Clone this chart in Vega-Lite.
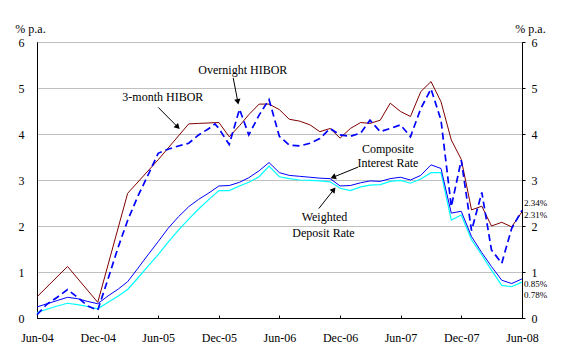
{
  "$schema": "https://vega.github.io/schema/vega-lite/v6.json",
  "width": 485,
  "height": 276,
  "autosize": "none",
  "padding": {"left": 37, "top": 42, "right": 43, "bottom": 36},
  "background": "white",
  "config": {
    "view": {"stroke": "black", "strokeWidth": 1},
    "font": "Liberation Serif, Times New Roman, DejaVu Serif, serif",
    "axis": {"labelFont": "Liberation Serif, Times New Roman, DejaVu Serif, serif", "labelFontSize": 12, "labelColor": "black", "titleFont": "Liberation Serif, Times New Roman, DejaVu Serif, serif", "titleFontSize": 12, "titleFontWeight": "normal", "titleColor": "black", "domainColor": "black", "tickColor": "black", "labelFlush": false, "labelBound": false, "labelOverlap": false}
  },
  "datasets": {
    "rates": [
      {"d":"2004-06-01","h3":0.46,"on":0.07,"ci":0.24,"wd":0.12},
      {"d":"2004-07-01","on":0.30,"ci":0.31,"wd":0.19},
      {"d":"2004-08-01","on":0.45,"ci":0.38,"wd":0.26},
      {"d":"2004-09-01","h3":1.12,"on":0.62,"ci":0.45,"wd":0.32},
      {"d":"2004-10-01","on":0.45,"ci":0.42,"wd":0.29},
      {"d":"2004-11-01","on":0.26,"ci":0.36,"wd":0.25},
      {"d":"2004-12-01","h3":0.34,"on":0.17,"ci":0.31,"wd":0.20},
      {"d":"2005-01-01","on":0.85,"ci":0.48,"wd":0.34},
      {"d":"2005-02-01","on":1.55,"ci":0.63,"wd":0.48},
      {"d":"2005-03-01","h3":2.71,"on":2.12,"ci":0.79,"wd":0.62},
      {"d":"2005-04-01","on":2.65,"ci":1.08,"wd":0.87},
      {"d":"2005-05-01","on":3.10,"ci":1.37,"wd":1.12},
      {"d":"2005-06-01","h3":3.44,"on":3.58,"ci":1.66,"wd":1.38},
      {"d":"2005-07-01","on":3.67,"ci":1.95,"wd":1.65},
      {"d":"2005-08-01","on":3.74,"ci":2.20,"wd":1.91},
      {"d":"2005-09-01","h3":4.22,"on":3.80,"ci":2.42,"wd":2.15},
      {"d":"2005-10-01","h3":4.23,"on":3.98,"ci":2.58,"wd":2.37},
      {"d":"2005-11-01","h3":4.24,"on":4.12,"ci":2.72,"wd":2.58},
      {"d":"2005-11-19","on":4.22},
      {"d":"2005-12-01","h3":4.25,"on":4.12,"ci":2.87,"wd":2.77},
      {"d":"2006-01-01","h3":3.94,"on":3.77,"ci":2.88,"wd":2.77},
      {"d":"2006-02-01","h3":4.18,"on":4.54,"ci":2.95,"wd":2.87},
      {"d":"2006-03-01","h3":4.42,"on":3.98,"ci":3.05,"wd":2.95},
      {"d":"2006-04-01","h3":4.65,"on":4.41,"ci":3.20,"wd":3.07},
      {"d":"2006-05-01","h3":4.65,"on":4.75,"ci":3.38,"wd":3.30},
      {"d":"2006-06-01","h3":4.53,"on":3.95,"ci":3.16,"wd":3.07},
      {"d":"2006-07-01","h3":4.32,"on":3.76,"ci":3.10,"wd":3.03},
      {"d":"2006-08-01","h3":4.28,"on":3.74,"ci":3.08,"wd":3.00},
      {"d":"2006-09-01","h3":4.20,"on":3.80,"ci":3.06,"wd":2.99},
      {"d":"2006-10-01","h3":4.05,"on":3.90,"ci":3.04,"wd":2.98},
      {"d":"2006-11-01","h3":4.12,"on":4.12,"ci":3.03,"wd":2.96},
      {"d":"2006-12-01","h3":3.91,"on":3.98,"ci":2.87,"wd":2.82},
      {"d":"2007-01-01","h3":4.12,"on":3.95,"ci":2.88,"wd":2.77},
      {"d":"2007-02-01","h3":4.25,"on":4.02,"ci":2.94,"wd":2.85},
      {"d":"2007-03-01","h3":4.23,"on":4.30,"ci":2.98,"wd":2.89},
      {"d":"2007-04-01","h3":4.30,"on":4.05,"ci":2.97,"wd":2.90},
      {"d":"2007-05-01","h3":4.67,"on":4.12,"ci":3.03,"wd":2.97},
      {"d":"2007-06-01","h3":4.49,"on":4.20,"ci":3.06,"wd":2.99},
      {"d":"2007-07-01","h3":4.38,"on":3.94,"ci":3.00,"wd":2.93},
      {"d":"2007-08-01","h3":4.92,"on":4.55,"ci":3.10,"wd":3.02},
      {"d":"2007-09-01","h3":5.14,"on":4.98,"ci":3.33,"wd":3.16},
      {"d":"2007-10-01","h3":4.70,"on":4.30,"ci":3.25,"wd":3.16},
      {"d":"2007-11-01","h3":3.87,"on":2.42,"ci":2.28,"wd":2.13},
      {"d":"2007-12-01","h3":3.45,"on":3.43,"ci":2.32,"wd":2.24},
      {"d":"2008-01-01","h3":2.35,"on":1.90,"ci":1.77,"wd":1.70},
      {"d":"2008-02-01","h3":2.43,"on":2.73,"ci":1.42,"wd":1.37},
      {"d":"2008-03-01","h3":2.00,"on":1.48,"ci":1.12,"wd":1.04},
      {"d":"2008-04-01","h3":2.08,"on":1.19,"ci":0.82,"wd":0.71},
      {"d":"2008-05-01","h3":1.98,"on":1.95,"ci":0.75,"wd":0.68},
      {"d":"2008-06-01","h3":2.31,"on":2.34,"ci":0.85,"wd":0.78}
    ],
    "ann": [
      {"t":"Overnight HIBOR","d":"2006-02-11","v":5.39},
      {"t":"3-month HIBOR","d":"2005-06-15","v":4.81},
      {"t":"Composite","d":"2007-04-24","v":3.68},
      {"t":"Interest Rate","d":"2007-04-24","v":3.36},
      {"t":"Weighted","d":"2006-10-15","v":2.19},
      {"t":"Deposit Rate","d":"2006-10-12","v":1.85}
    ],
    "ends": [
      {"t":"2.34%","d":"2008-06-01","v":2.51},
      {"t":"2.31%","d":"2008-06-01","v":2.25},
      {"t":"0.85%","d":"2008-06-01","v":0.75},
      {"t":"0.78%","d":"2008-06-01","v":0.49}
    ],
    "arrows": [
      {"id":1,"d":"2006-01-13","v":5.22,"d2":"2006-01-27","v2":4.70},
      {"id":2,"d":"2005-06-01","v":4.58,"d2":"2005-07-30","v2":4.15},
      {"id":3,"d":"2007-01-24","v":3.28,"d2":"2006-11-10","v2":3.06},
      {"id":4,"d":"2006-09-28","v":2.38,"d2":"2006-11-12","v2":2.79}
    ]
  },
  "layer": [
    {
      "data": {"name": "rates"},
      "transform": [{"filter": "isValid(datum.h3)"}],
      "mark": {"type": "line", "color": "#800000", "strokeWidth": 1},
      "encoding": {
        "x": {"field": "d", "type": "temporal", "title": null,
          "scale": {"type": "utc", "domain": [{"year":2004,"month":6,"date":1,"utc":true},{"year":2008,"month":6,"date":1,"utc":true}]},
          "axis": {"grid": false, "tickSize": -3, "labelPadding": 17, "labelExpr": "utcFormat(datum.value, '%b-%y')",
            "values": [{"year":2004,"month":6,"date":1,"utc":true},{"year":2004,"month":12,"date":1,"utc":true},{"year":2005,"month":6,"date":1,"utc":true},{"year":2005,"month":12,"date":1,"utc":true},{"year":2006,"month":6,"date":1,"utc":true},{"year":2006,"month":12,"date":1,"utc":true},{"year":2007,"month":6,"date":1,"utc":true},{"year":2007,"month":12,"date":1,"utc":true},{"year":2008,"month":6,"date":1,"utc":true}]}},
        "y": {"field": "h3", "type": "quantitative", "scale": {"domain": [0, 6]},
          "axis": {"orient": "left", "values": [0,1,2,3,4,5,6], "grid": true, "gridColor": "#c0c0c0", "ticks": false, "labelPadding": 13,
            "title": "% p.a.", "titleAngle": 0, "titleX": -7, "titleY": -14, "titleAlign": "center", "titleBaseline": "middle"}}
      }
    },
    {
      "data": {"name": "rates"},
      "transform": [{"filter": "isValid(datum.wd)"}],
      "mark": {"type": "line", "color": "#00ffff", "strokeWidth": 1.2},
      "encoding": {
        "x": {"field": "d", "type": "temporal", "title": null},
        "y": {"field": "wd", "type": "quantitative", "axis": null}
      }
    },
    {
      "data": {"name": "rates"},
      "transform": [{"filter": "isValid(datum.ci)"}],
      "mark": {"type": "line", "color": "#0000ff", "strokeWidth": 1},
      "encoding": {
        "x": {"field": "d", "type": "temporal", "title": null},
        "y": {"field": "ci", "type": "quantitative", "axis": null}
      }
    },
    {
      "data": {"name": "rates"},
      "transform": [{"filter": "isValid(datum.on)"}],
      "mark": {"type": "line", "color": "#0000ff", "strokeWidth": 1.7, "strokeDash": [7, 4]},
      "encoding": {
        "x": {"field": "d", "type": "temporal", "title": null},
        "y": {"field": "on", "type": "quantitative", "axis": null}
      }
    },
    {
      "data": {"name": "arrows"},
      "mark": {"type": "rule", "color": "black", "strokeWidth": 1},
      "encoding": {
        "x": {"field": "d", "type": "temporal", "title": null},
        "y": {"field": "v", "type": "quantitative", "axis": null},
        "x2": {"field": "d2"},
        "y2": {"field": "v2"}
      }
    },
    {
      "data": {"name": "arrows"},
      "transform": [{"filter": "datum.id == 1"}],
      "mark": {"type": "point", "shape": "triangle-up", "filled": true, "color": "black", "opacity": 1, "size": 40, "angle": 169.5},
      "encoding": {"x": {"field": "d2", "type": "temporal", "title": null}, "y": {"field": "v2", "type": "quantitative", "axis": null}}
    },
    {
      "data": {"name": "arrows"},
      "transform": [{"filter": "datum.id == 2"}],
      "mark": {"type": "point", "shape": "triangle-up", "filled": true, "color": "black", "opacity": 1, "size": 40, "angle": 135.4},
      "encoding": {"x": {"field": "d2", "type": "temporal", "title": null}, "y": {"field": "v2", "type": "quantitative", "axis": null}}
    },
    {
      "data": {"name": "arrows"},
      "transform": [{"filter": "datum.id == 3"}],
      "mark": {"type": "point", "shape": "triangle-up", "filled": true, "color": "black", "opacity": 1, "size": 40, "angle": 248.3},
      "encoding": {"x": {"field": "d2", "type": "temporal", "title": null}, "y": {"field": "v2", "type": "quantitative", "axis": null}}
    },
    {
      "data": {"name": "arrows"},
      "transform": [{"filter": "datum.id == 4"}],
      "mark": {"type": "point", "shape": "triangle-up", "filled": true, "color": "black", "opacity": 1, "size": 40, "angle": 38.5},
      "encoding": {"x": {"field": "d2", "type": "temporal", "title": null}, "y": {"field": "v2", "type": "quantitative", "axis": null}}
    },
    {
      "data": {"name": "ann"},
      "mark": {"type": "text", "font": "Liberation Serif, Times New Roman, DejaVu Serif, serif", "fontSize": 12, "color": "black", "align": "center", "baseline": "middle"},
      "encoding": {
        "x": {"field": "d", "type": "temporal", "title": null},
        "y": {"field": "v", "type": "quantitative", "axis": null},
        "text": {"field": "t"}
      }
    },
    {
      "data": {"name": "ends"},
      "mark": {"type": "text", "font": "Liberation Serif, Times New Roman, DejaVu Serif, serif", "fontSize": 9, "color": "black", "align": "left", "baseline": "middle", "dx": 2},
      "encoding": {
        "x": {"field": "d", "type": "temporal", "title": null},
        "y": {"field": "v", "type": "quantitative",
          "axis": {"orient": "right", "values": [0,1,2,3,4,5,6], "grid": false, "tickSize": 3, "labelPadding": 6,
            "title": "% p.a.", "titleAngle": 0, "titleX": 8, "titleY": -14, "titleAlign": "center", "titleBaseline": "middle"}},
        "text": {"field": "t"}
      }
    }
  ],
  "resolve": {"axis": {"y": "independent"}}
}
